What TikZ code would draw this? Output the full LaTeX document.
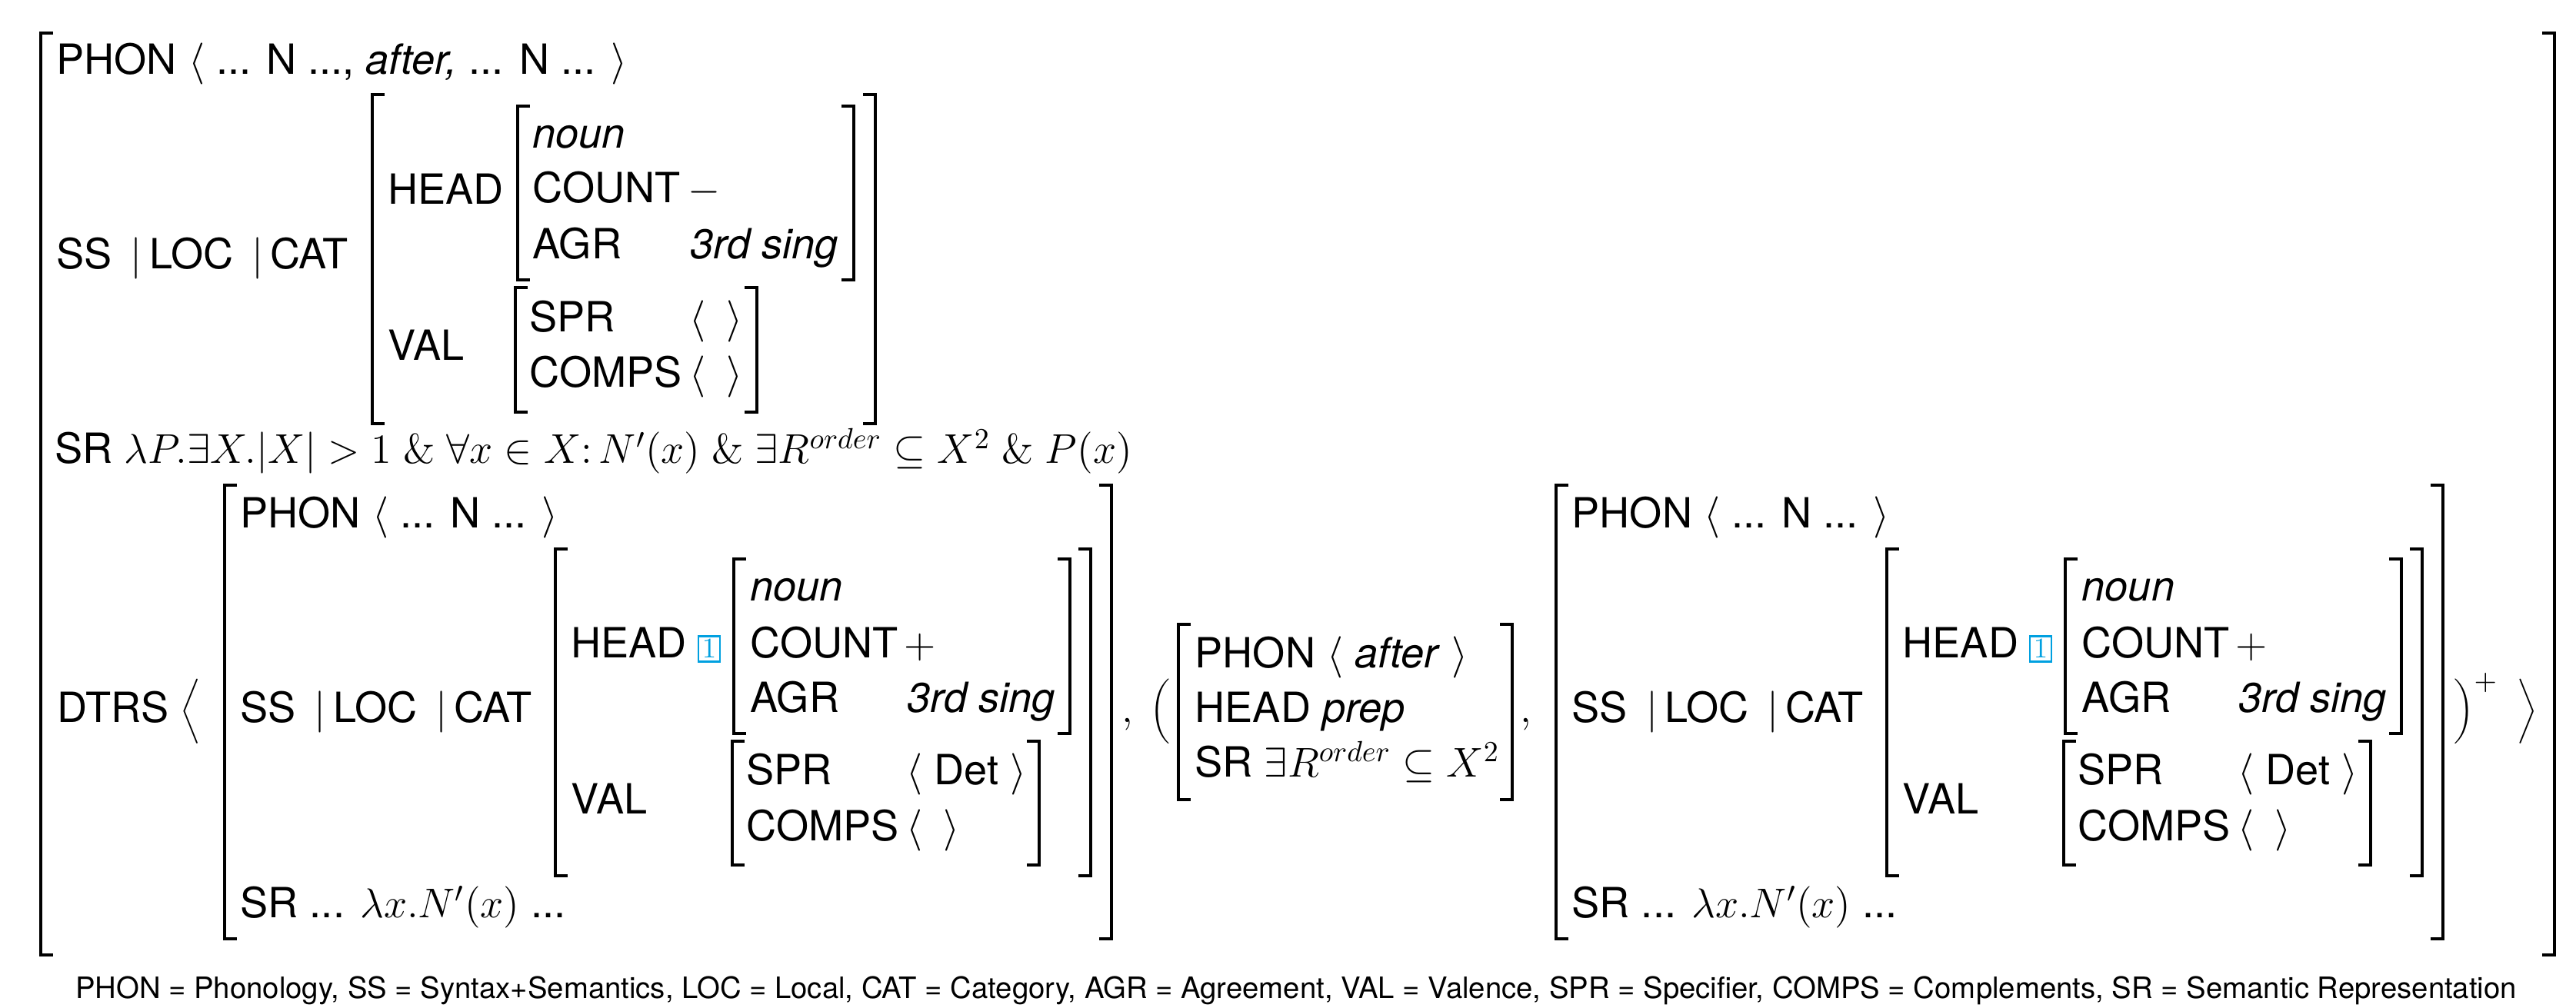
\RequirePackage{fix-cm}
\documentclass[tikz,border=0pt]{standalone}
\usepackage[no-math]{fontspec}
\setmainfont{TeX Gyre Heros}
\definecolor{tagblue}{RGB}{0,160,224}
\newcommand{\avmfont}{\fontsize{15.4}{18}\selectfont}
% left and right bracket of one AVM: x left, x right, y top, y bottom
\newcommand{\avmbrackets}[4]{%
  \draw[brk] (#1+0.16,#3) -| (#1,#4) -- ++(0.16,0);
  \draw[brk] (#2-0.16,#3) -| (#2,#4) -- ++(-0.16,0);}

\begin{document}
\begin{tikzpicture}[
  feat/.style={anchor=base west, inner sep=0pt, font=\avmfont},
  brk/.style={line width=1.2pt},
  tag/.style={draw=tagblue, text=tagblue, line width=0.6pt, inner sep=0pt, minimum width=0.28cm, minimum height=0.33cm, font=\fontsize{10.5}{10.5}\selectfont},
  note/.style={anchor=base, inner sep=0pt, font=\fontsize{10.9}{12}\selectfont},
]
\useasboundingbox (0,0) rectangle (33.49,13.10);

% --- Mother ---
\avmbrackets{0.53}{33.21}{12.67}{0.68}
\node[feat] (m-phon) at (0.73,12.13) {PHON $\langle$ ... N ..., \textit{after,} ... N ... $\rangle$};
\node[feat] (m-ss) at (0.73,9.60) {SS \,$|$\,LOC \,$|$\,CAT};

\avmbrackets{4.84}{11.38}{11.87}{7.59}
\node[feat] (m-head) at (5.04,10.44) {HEAD};
\node[feat] (m-val) at (5.04,8.41) {VAL};

\avmbrackets{6.73}{11.10}{11.72}{9.46}
\node[feat] (m-noun) at (6.92,11.17) {\textit{noun}};
\node[feat] (m-count) at (6.92,10.46) {COUNT};
\node[feat] (m-countv) at (8.94,10.46) {$-$};
\node[feat] (m-agr) at (6.92,9.73) {AGR};
\node[feat] (m-agrv) at (8.97,9.73) {\textit{3rd sing}};

\avmbrackets{6.70}{9.84}{9.36}{7.74}
\node[feat] (m-spr) at (6.88,8.78) {SPR};
\node[feat] (m-sprv) at (8.96,8.78) {$\langle$\enspace$\rangle$};
\node[feat] (m-comps) at (6.88,8.06) {COMPS};
\node[feat] (m-compsv) at (8.96,8.06) {$\langle$\enspace$\rangle$};

\node[feat] (m-sr) at (0.71,7.07) {SR $\lambda P.\exists X.|X|>1\;\&\;\forall x\in X\colon N'(x)\;\&\;\exists R^{order}\subseteq X^2\;\&\;P(x)$};

\node[feat] (dtrs) at (0.74,3.71) {DTRS $\bigg\langle$};

% --- First noun daughter ---
\avmbrackets{2.92}{14.45}{6.79}{0.89}
\node[feat] (a-phon) at (3.12,6.23) {PHON $\langle$ ... N ... $\rangle$};
\node[feat] (a-ss) at (3.12,3.71) {SS \,$|$\,LOC \,$|$\,CAT};

\avmbrackets{7.22}{14.18}{5.96}{1.71}
\node[feat] (a-head) at (7.42,4.55) {HEAD};
\node[tag] (a-tag) at (9.22,4.66) {$1$};
\node[feat] (a-val) at (7.42,2.52) {VAL};

\avmbrackets{9.54}{13.91}{5.83}{3.56}
\node[feat] (a-noun) at (9.75,5.29) {\textit{noun}};
\node[feat] (a-count) at (9.75,4.55) {COUNT};
\node[feat] (a-countv) at (11.75,4.55) {$+$};
\node[feat] (a-agr) at (9.75,3.84) {AGR};
\node[feat] (a-agrv) at (11.79,3.84) {\textit{3rd sing}};

\avmbrackets{9.52}{13.51}{3.46}{1.85}
\node[feat] (a-spr) at (9.70,2.90) {SPR};
\node[feat] (a-sprv) at (11.78,2.90) {$\langle$ Det $\rangle$};
\node[feat] (a-comps) at (9.70,2.17) {COMPS};
\node[feat] (a-compsv) at (11.78,2.17) {$\langle$\enspace$\rangle$};

\node[feat] (a-sr) at (3.12,1.17) {SR ... $\lambda x.N'(x)$ ...};

\node[feat] (comma1) at (14.58,3.71) {$,$};
\node[feat] (lparen) at (14.95,3.71) {$\bigg($};

% --- Preposition ---
\avmbrackets{15.32}{19.66}{4.98}{2.70}
\node[feat] (p-phon) at (15.53,4.42) {PHON $\langle$ \textit{after} $\rangle$};
\node[feat] (p-head) at (15.53,3.71) {HEAD \textit{prep}};
\node[feat] (p-sr) at (15.53,3.00) {SR $\exists R^{order}\subseteq X^2$};

\node[feat] (comma2) at (19.76,3.71) {$,$};

% --- Second noun daughter ---
\avmbrackets{20.23}{31.76}{6.79}{0.89}
\node[feat] (b-phon) at (20.43,6.23) {PHON $\langle$ ... N ... $\rangle$};
\node[feat] (b-ss) at (20.43,3.71) {SS \,$|$\,LOC \,$|$\,CAT};

\avmbrackets{24.53}{31.49}{5.96}{1.71}
\node[feat] (b-head) at (24.73,4.55) {HEAD};
\node[tag] (b-tag) at (26.53,4.66) {$1$};
\node[feat] (b-val) at (24.73,2.52) {VAL};

\avmbrackets{26.85}{31.22}{5.83}{3.56}
\node[feat] (b-noun) at (27.06,5.29) {\textit{noun}};
\node[feat] (b-count) at (27.06,4.55) {COUNT};
\node[feat] (b-countv) at (29.06,4.55) {$+$};
\node[feat] (b-agr) at (27.06,3.84) {AGR};
\node[feat] (b-agrv) at (29.10,3.84) {\textit{3rd sing}};

\avmbrackets{26.83}{30.82}{3.46}{1.85}
\node[feat] (b-spr) at (27.01,2.90) {SPR};
\node[feat] (b-sprv) at (29.09,2.90) {$\langle$ Det $\rangle$};
\node[feat] (b-comps) at (27.01,2.17) {COMPS};
\node[feat] (b-compsv) at (29.09,2.17) {$\langle$\enspace$\rangle$};

\node[feat] (b-sr) at (20.43,1.17) {SR ... $\lambda x.N'(x)$ ...};

\node[feat] (rparen) at (31.90,3.71) {$\bigg)^{+}$};
\node[feat] (rangle) at (32.72,3.71) {$\bigg\rangle$};

% --- Key ---
\node[note] (key) at (16.85,0.12) {PHON = Phonology, SS = Syntax+Semantics, LOC = Local, CAT = Category, AGR = Agreement, VAL = Valence, SPR = Specifier, COMPS = Complements, SR = Semantic Representation};

\end{tikzpicture}
\end{document}
